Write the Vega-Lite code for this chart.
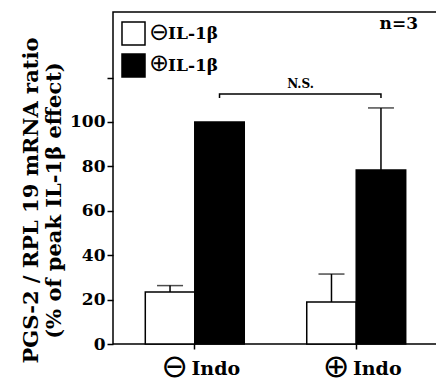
{
  "$schema": "https://vega.github.io/schema/vega-lite/v6.json",
  "width": 325,
  "height": 332,
  "autosize": "none",
  "padding": {"left": 113, "top": 12, "right": 0, "bottom": 35},
  "background": "white",
  "config": {
    "view": {"stroke": "black", "strokeWidth": 1.5},
    "font": "DejaVu Serif",
    "axis": {
      "domain": false, "tickColor": "black", "tickWidth": 1.5,
      "labelColor": "black", "titleColor": "black", "grid": false,
      "labelFont": "DejaVu Serif", "labelFontWeight": "bold",
      "titleFont": "DejaVu Serif", "titleFontWeight": "bold"
    }
  },
  "title": {
    "text": "n=3", "anchor": "end", "orient": "top", "frame": "group", "offset": -21, "dx": -20, "dy": 13,
    "baseline": "alphabetic", "fontSize": 17, "font": "DejaVu Serif", "fontWeight": "bold", "color": "black"
  },
  "datasets": {
    "bars": [
      {"indo": "⊖ Indo", "il": "⊖IL-1β", "value": 23.4, "upper": 26.3},
      {"indo": "⊖ Indo", "il": "⊕IL-1β", "value": 100, "upper": null},
      {"indo": "⊕ Indo", "il": "⊖IL-1β", "value": 18.9, "upper": 31.5},
      {"indo": "⊕ Indo", "il": "⊕IL-1β", "value": 78.4, "upper": 106.3}
    ],
    "bracket": [
      {"indo": "⊖ Indo", "il": "⊕IL-1β", "y": 110.8, "order": 1},
      {"indo": "⊖ Indo", "il": "⊕IL-1β", "y": 112.6, "order": 2},
      {"indo": "⊕ Indo", "il": "⊕IL-1β", "y": 112.6, "order": 3},
      {"indo": "⊕ Indo", "il": "⊕IL-1β", "y": 110.8, "order": 4}
    ],
    "label": [
      {"indo": "⊖ Indo", "il": "⊕IL-1β", "y": 112.6, "text": "N.S."}
    ],
    "xsigns": [
      {"indo": "⊖ Indo", "y": -10.2, "sign": "⊖"},
      {"indo": "⊕ Indo", "y": -10.2, "sign": "⊕"}
    ],
    "lsigns": [
      {"indo": "⊖ Indo", "y": 140.0, "sign": "⊖"},
      {"indo": "⊖ Indo", "y": 126.1, "sign": "⊕"}
    ]
  },
  "layer": [
    {
      "data": {"name": "bars"},
      "mark": {"type": "bar", "stroke": "black", "strokeWidth": 1.5},
      "encoding": {
        "x": {
          "field": "indo", "type": "nominal",
          "scale": {"domain": ["⊖ Indo", "⊕ Indo"], "paddingInner": 0.387, "paddingOuter": 0.2},
          "axis": {"title": null, "labelAngle": 0, "labelFontSize": 19, "tickSize": 5, "labelPadding": 10,
                   "labelExpr": "slice(datum.label, 2)", "labelOffset": 21}
        },
        "xOffset": {"field": "il", "type": "nominal", "scale": {"domain": ["⊖IL-1β", "⊕IL-1β"]}},
        "y": {
          "field": "value", "type": "quantitative",
          "scale": {"domain": [0, 149.5], "nice": false, "zero": true},
          "axis": {
            "title": ["PGS-2 / RPL 19 mRNA ratio", "(% of peak IL-1β effect)"],
            "titleFontSize": 21, "titlePadding": 5, "titleY": 188,
            "values": [0, 10, 20, 30, 40, 50, 60, 70, 80, 90, 100, 110, 120],
            "labelExpr": "datum.value % 20 === 0 && datum.value <= 100 ? datum.label : ''",
            "labelFontSize": 17, "labelPadding": 2,
            "tickSize": {"condition": {"test": "datum.value % 20 === 0", "value": 6}, "value": 3}
          }
        },
        "fill": {
          "field": "il", "type": "nominal",
          "scale": {"domain": ["⊖IL-1β", "⊕IL-1β"], "range": ["white", "black"]},
          "legend": {
            "orient": "none", "legendX": 8, "legendY": 9, "title": null, "padding": 0,
            "symbolType": "square", "symbolSize": 530, "symbolStrokeColor": "black", "symbolStrokeWidth": 1.5,
            "labelFont": "DejaVu Serif", "labelFontWeight": "bold", "labelFontSize": 17, "labelColor": "black",
            "rowPadding": 1, "labelOffset": 22, "labelExpr": "slice(datum.label, 1)"
          }
        }
      }
    },
    {
      "data": {"name": "bars"},
      "transform": [{"filter": "datum.upper != null"}],
      "mark": {"type": "rule", "color": "black", "strokeWidth": 1.5},
      "encoding": {
        "x": {"field": "indo", "type": "nominal"},
        "xOffset": {"field": "il", "type": "nominal"},
        "y": {"field": "value", "type": "quantitative"},
        "y2": {"field": "upper"}
      }
    },
    {
      "data": {"name": "bars"},
      "transform": [{"filter": "datum.upper != null"}],
      "mark": {"type": "tick", "color": "black", "size": 26, "thickness": 1.5},
      "encoding": {
        "x": {"field": "indo", "type": "nominal"},
        "xOffset": {"field": "il", "type": "nominal"},
        "y": {"field": "upper", "type": "quantitative"}
      }
    },
    {
      "data": {"name": "bracket"},
      "mark": {"type": "line", "color": "black", "strokeWidth": 1.5},
      "encoding": {
        "x": {"field": "indo", "type": "nominal"},
        "xOffset": {"field": "il", "type": "nominal"},
        "y": {"field": "y", "type": "quantitative"},
        "order": {"field": "order", "type": "quantitative"}
      }
    },
    {
      "data": {"name": "label"},
      "mark": {"type": "text", "font": "DejaVu Serif", "fontWeight": "bold", "fontSize": 12, "baseline": "bottom", "dy": -3, "dx": 81, "color": "black"},
      "encoding": {
        "x": {"field": "indo", "type": "nominal"},
        "xOffset": {"field": "il", "type": "nominal"},
        "y": {"field": "y", "type": "quantitative"},
        "text": {"field": "text"}
      }
    },
    {
      "data": {"name": "xsigns"},
      "mark": {"type": "text", "font": "DejaVu Sans", "fontSize": 32, "baseline": "middle", "align": "center", "dx": -20, "color": "black"},
      "encoding": {
        "x": {"field": "indo", "type": "nominal"},
        "y": {"field": "y", "type": "quantitative"},
        "text": {"field": "sign"}
      }
    },
    {
      "data": {"name": "lsigns"},
      "mark": {"type": "text", "font": "DejaVu Sans", "fontSize": 24, "baseline": "middle", "align": "center", "dx": -35.8, "color": "black"},
      "encoding": {
        "x": {"field": "indo", "type": "nominal"},
        "y": {"field": "y", "type": "quantitative"},
        "text": {"field": "sign"}
      }
    }
  ]
}
